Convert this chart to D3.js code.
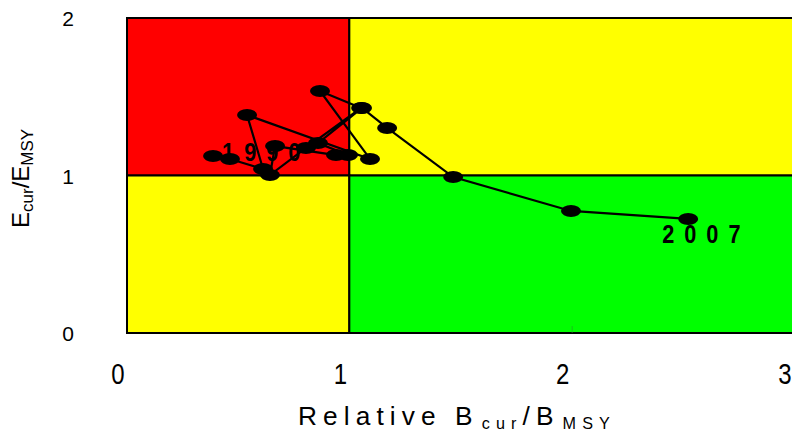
<!DOCTYPE html>
<html><head><meta charset="utf-8">
<script src="https://cdn.jsdelivr.net/npm/d3@7"></script>
<style>body{margin:0;background:#fff;overflow:hidden}</style>
</head><body>
<svg id="c" width="792" height="434"></svg>
<script>
// ---- data ----
const years = [1990,1991,1992,1993,1994,1995,1996,1997,1998,1999,2000,2001,2002,2003,2004,2005,2006,2007];
const bRel  = [0.387,0.463,0.612,0.540,1.093,0.868,1.053,0.805,0.643,0.666,0.940,0.994,0.859,1.057,1.170,1.467,1.997,2.524];
const eRel  = [1.124,1.105,1.041,1.384,1.105,1.537,1.429,1.175,1.003,1.187,1.130,1.130,1.206,1.429,1.302,0.990,0.775,0.724];
const xTicks = [0,1,2,3];
const yTicks = [0,1,2];
const zoneX0 = [0,1,0,1];
const zoneX1 = [1,3,1,3];
const zoneY0 = [1,1,0,0];
const zoneY1 = [2,2,1,1];
const zoneColor = ["#FF0000","#FFFF00","#FFFF00","#00FF00"];

const svg = d3.select("#c");
const x = d3.scaleLinear().domain([0,3]).range([127,794]);
const y = d3.scaleLinear().domain([0,2]).range([333,18]);

// zones
svg.append("g").selectAll("rect").data(zoneColor).join("rect")
  .attr("x",(d,i)=>x(zoneX0[i])).attr("y",(d,i)=>y(zoneY1[i]))
  .attr("width",(d,i)=>x(zoneX1[i])-x(zoneX0[i]))
  .attr("height",(d,i)=>y(zoneY0[i])-y(zoneY1[i]))
  .attr("fill",d=>d).attr("stroke","#000").attr("stroke-width",2);

// axes
const xa = svg.append("g").attr("transform",`translate(0,${y(0)})`)
  .call(d3.axisBottom(x).tickValues(xTicks).tickSize(-7).tickFormat(d3.format("d")));
xa.select(".domain").remove();
xa.selectAll(".tick line").attr("stroke","#2a9a2a").attr("stroke-width",1).attr("opacity",d=>d===2?0.6:0);
xa.selectAll(".tick text").attr("y",0).attr("dy",0)
  .attr("transform","translate(-9.5,51) scale(0.8,1)")
  .attr("font-family","Liberation Sans, Arial, sans-serif").attr("font-size",30).attr("fill","#000");

const ya = svg.append("g").attr("transform",`translate(${x(0)},0)`)
  .call(d3.axisLeft(y).tickValues(yTicks).tickSize(0).tickFormat(d3.format("d")));
ya.select(".domain").remove();
ya.selectAll(".tick text").attr("x",-59).attr("dy","0.36em").attr("text-anchor","middle")
  .attr("font-family","Liberation Sans, Arial, sans-serif").attr("font-size",21).attr("fill","#000");

// path
const pts = years.map((yr,i)=>[x(bRel[i]),y(eRel[i])]);
svg.append("path").attr("d",d3.line()(pts)).attr("fill","none").attr("stroke","#000").attr("stroke-width",2.2);
svg.append("g").selectAll("ellipse").data(pts).join("ellipse")
  .attr("cx",d=>d[0]).attr("cy",d=>d[1]).attr("rx",10).attr("ry",6).attr("fill","#000");

// year labels
function yearLabel(i, dx, dy){
  svg.append("text").attr("x",0).attr("y",0)
    .attr("font-family","Liberation Sans, Arial, sans-serif").attr("font-weight","bold")
    .attr("font-size",25).attr("letter-spacing",11.5)
    .attr("transform",`translate(${pts[i][0]+dx},${pts[i][1]+dy}) scale(0.87,1)`)
    .text(years[i]);
}
yearLabel(0, 9, 5);
yearLabel(years.length-1, -26, 24);

// x title
const xt = svg.append("text").attr("y",425)
  .attr("font-family","Liberation Sans, Arial, sans-serif").attr("font-size",26).attr("letter-spacing",6).attr("fill","#000");
xt.append("tspan").text("Relative B");
xt.append("tspan").attr("font-size",16).attr("dy",4).attr("dx",3).text("cur");
xt.append("tspan").attr("dy",-4).text("/B");
xt.append("tspan").attr("font-size",16).attr("dy",4).attr("dx",3).text("MSY");
const w = xt.node().getBBox().width;
const sx = 318 / w;
xt.attr("transform",`translate(298,0) scale(${sx},1)`);

// y title
const yt = svg.append("text").attr("transform","translate(29,228) rotate(-90)")
  .attr("font-family","Liberation Sans, Arial, sans-serif").attr("font-size",24).attr("fill","#000");
yt.append("tspan").text("E");
yt.append("tspan").attr("font-size",17).attr("dy",4).text("cur");
yt.append("tspan").attr("dy",-4).text("/E");
yt.append("tspan").attr("font-size",17).attr("dy",4).text("MSY");
</script>
</body></html>
